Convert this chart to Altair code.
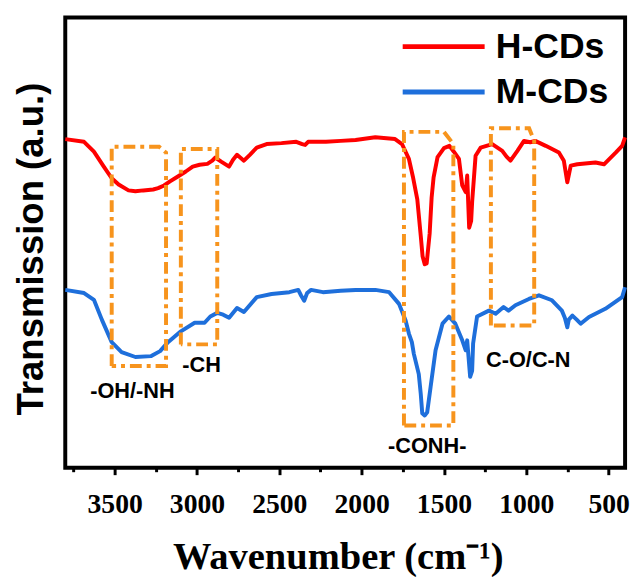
import altair as alt
import pandas as pd

# ---- spectra (wavenumber cm-1, transmission a.u.) ----
h_wn = [3800, 3686, 3626, 3566, 3518, 3476, 3416, 3374, 3326, 3266, 3236, 3200, 3164, 3116,
        3068, 3026, 2984, 2937, 2907, 2889, 2853, 2805, 2781, 2757, 2715, 2679, 2637, 2577,
        2487, 2397, 2361, 2343, 2325, 2217, 2127, 2037, 1917, 1797, 1755, 1713, 1689, 1662,
        1641, 1630, 1617, 1605, 1587, 1575, 1563, 1539, 1500, 1467, 1440, 1409, 1389, 1368,
        1359, 1347, 1335, 1329, 1308, 1277, 1207, 1146, 1120, 1096, 1054, 1014, 976, 946,
        882, 802, 772, 751, 730, 690, 580, 528, 457, 418, 400]
h_val = [73.0, 72.4, 70.2, 66.9, 64.3, 62.9, 61.6, 61.4, 61.6, 61.8, 62.1, 62.7, 63.6, 64.7,
         65.8, 66.9, 67.3, 67.5, 68.2, 68.9, 68.0, 66.9, 68.4, 69.5, 68.2, 69.5, 71.1, 71.9,
         72.1, 72.4, 71.9, 71.7, 72.4, 72.4, 72.6, 72.8, 73.4, 73.0, 71.9, 68.6, 64.7, 59.6,
         51.5, 47.0, 45.2, 45.4, 52.0, 60.0, 64.5, 69.0, 71.0, 71.5, 70.2, 68.6, 62.7, 61.2,
         64.9, 53.3, 54.8, 59.0, 69.3, 71.1, 71.9, 70.4, 69.1, 68.2, 70.4, 72.6, 72.3, 72.6,
         71.5, 70.0, 68.2, 63.4, 67.1, 67.4, 67.8, 67.4, 70.0, 71.5, 73.4]

m_wn = [3800, 3686, 3626, 3578, 3518, 3458, 3374, 3278, 3224, 3176, 3098, 3014, 2954, 2919,
        2877, 2841, 2805, 2757, 2715, 2637, 2547, 2439, 2385, 2367, 2349, 2331, 2307, 2235,
        2127, 2037, 1917, 1833, 1773, 1733, 1713, 1695, 1683, 1653, 1641, 1632, 1617, 1602,
        1581, 1551, 1509, 1470, 1431, 1389, 1368, 1359, 1341, 1329, 1323, 1299, 1227, 1186,
        1138, 1108, 1066, 984, 923, 844, 784, 766, 751, 742, 720, 694, 670, 619, 520, 418, 400]
m_val = [39.5, 38.8, 37.3, 32.9, 27.9, 25.7, 24.6, 24.8, 25.9, 27.9, 30.3, 32.2, 32.2, 33.6,
         34.4, 34.0, 33.3, 35.5, 34.6, 37.9, 38.6, 39.0, 39.5, 38.2, 37.1, 38.8, 39.5, 39.0,
         39.3, 39.5, 39.5, 39.0, 36.4, 32.7, 29.8, 27.9, 25.3, 20.8, 16.4, 12.1, 11.6, 12.3,
         18.0, 26.1, 32.0, 33.6, 32.0, 28.3, 26.1, 28.3, 20.2, 21.5, 27.6, 33.6, 34.9, 34.2,
         35.7, 34.9, 36.1, 37.5, 38.3, 37.2, 34.9, 33.3, 31.2, 32.9, 33.8, 32.9, 32.0, 33.5,
         35.3, 37.9, 40.1]

series = ["H-CDs", "M-CDs"]
colors = ["#FF0000", "#1E6FDB"]

# ---- annotation boxes (dash-dot outlines) ----
box_id = ["b1"] * 6 + ["b2"] * 5 + ["b3"] * 6 + ["b4"] * 6
box_wn = [3518, 3518, 3230, 3188, 3188, 3518,
          3098, 3098, 2877, 2877, 3098,
          1743, 1743, 1500, 1443, 1443, 1743,
          1215, 1215, 983, 952, 952, 1215]
box_val = [22.6, 71.3, 71.3, 70.0, 22.6, 22.6,
           27.4, 70.8, 70.8, 27.4, 27.4,
           9.4, 74.6, 74.6, 71.9, 9.4, 9.4,
           31.6, 75.4, 75.4, 72.6, 31.6, 31.6]

lab_text = ["-OH/-NH", "-CH", "-CONH-", "C-O/C-N"]
lab_wn = [3392, 2972, 1602, 988]
lab_val = [17.1, 22.8, 4.9, 24.0]

major_ticks = [3500, 3000, 2500, 2000, 1500, 1000, 500]
minor_ticks = [3750, 3250, 2750, 2250, 1750, 1250, 750]

# ---- tables ----
spec = pd.concat([
    pd.DataFrame({"wn": h_wn, "t": h_val, "s": series[0], "i": range(len(h_wn))}),
    pd.DataFrame({"wn": m_wn, "t": m_val, "s": series[1], "i": range(len(m_wn))}),
])
boxes = pd.DataFrame({"wn": box_wn, "t": box_val, "b": box_id, "i": range(len(box_wn))})
labels = pd.DataFrame({"wn": lab_wn, "t": lab_val, "txt": lab_text})

xs = alt.Scale(domain=[400, 3800], reverse=True, nice=False, zero=False)
ys = alt.Scale(domain=[0, 100], nice=False, zero=False)

y_axis = alt.Axis(title="Transmission (a.u.)", ticks=False, labels=False, domain=False,
                  grid=False, titleFont="Liberation Sans", titleFontSize=37,
                  titleFontWeight="bold", titleColor="black", titleBaseline="alphabetic",
                  titleX=-23, titleY=234)

major_axis = alt.Axis(orient="bottom", values=major_ticks, format="d", tickSize=7, tickWidth=3,
                      tickColor="black", domain=False, grid=False,
                      labelFont="Liberation Serif", labelFontWeight="bold", labelFontSize=28,
                      labelColor="black", labelPadding=16,
                      title="Wavenumber (cm⁻¹)", titleFont="Liberation Serif",
                      titleFontWeight="bold", titleFontSize=39, titleColor="black",
                      titleBaseline="alphabetic", titleX=276, titleY=102)
minor_axis = alt.Axis(orient="bottom", values=minor_ticks, tickSize=4, tickWidth=3,
                      tickColor="black", domain=False, grid=False, labels=False, title="")

lines = alt.Chart(spec).mark_line(strokeWidth=4, strokeJoin="round").encode(
    x=alt.X("wn:Q", scale=xs, axis=major_axis),
    y=alt.Y("t:Q", scale=ys, axis=y_axis),
    color=alt.Color("s:N", scale=alt.Scale(domain=series, range=colors),
                    legend=alt.Legend(title=None, orient="none", legendX=339, legendY=6,
                                      symbolType="M-1,0H3", symbolSize=1722,
                                      symbolStrokeWidth=5, labelFont="Liberation Sans",
                                      labelFontWeight="bold", labelFontSize=36,
                                      labelColor="black", labelOffset=50, rowPadding=4,
                                      padding=0, offset=0)),
    order="i:Q",
)

box_layer = alt.Chart(boxes).mark_line(strokeWidth=4, color="#F7941D",
                                       strokeDash=[12, 5, 4, 5]).encode(
    x=alt.X("wn:Q", scale=xs, axis=minor_axis),
    y=alt.Y("t:Q", scale=ys, axis=y_axis),
    detail="b:N",
    order="i:Q",
)

text_layer = alt.Chart(labels).mark_text(font="Liberation Sans", fontWeight="bold",
                                         fontSize=22, color="black", baseline="middle",
                                         align="center").encode(
    x=alt.X("wn:Q", scale=xs, axis=None),
    y=alt.Y("t:Q", scale=ys, axis=y_axis),
    text="txt:N",
)

chart = alt.layer(lines, box_layer, text_layer).resolve_axis(x="independent").properties(
    width=567, height=456,
    padding={"left": 58, "top": 6, "right": 7, "bottom": 107},
    autosize=alt.AutoSizeParams(type="none"),
    background="white",
).configure_view(stroke="black", strokeWidth=4)

chart.save("out.html", embed_options={"renderer": "svg", "actions": False})
